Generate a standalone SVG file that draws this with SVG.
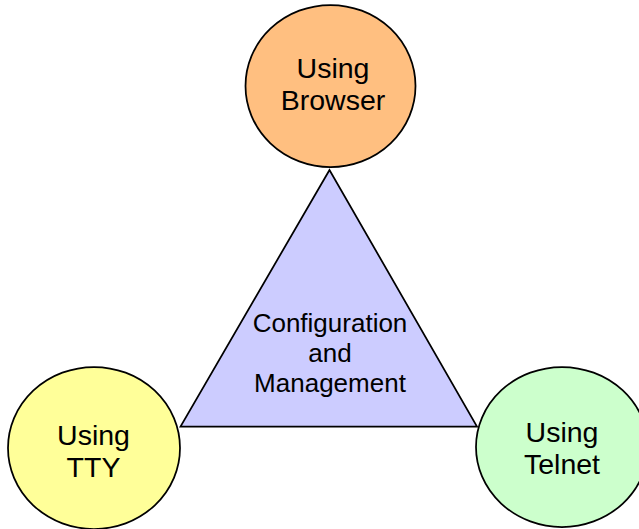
<svg xmlns="http://www.w3.org/2000/svg" width="639" height="529" viewBox="0 0 639 529">
<style>
.shape{stroke:#000;stroke-width:1.75}
.lbl{font-family:"Liberation Sans",Arial,sans-serif;font-size:28.5px;fill:#000;text-anchor:middle}
.tri{font-family:"Liberation Sans",Arial,sans-serif;font-size:26px;fill:#000;text-anchor:middle}
</style>
<rect width="639" height="529" fill="#fff"/>
<g id="connectors"></g>
<g id="browser">
<ellipse class="shape" cx="330.5" cy="86" rx="85" ry="81" fill="#FFBF80"/>
<text class="lbl" x="333" y="78">Using</text>
<text class="lbl" x="333" y="110">Browser</text>
</g>
<g id="config">
<polygon class="shape" points="329.5,170 180.5,426.5 477,426.5" fill="#CCCCFF"/>
<text class="tri" x="330" y="332">Configuration</text>
<text class="tri" x="330" y="362">and</text>
<text class="tri" x="330" y="392">Management</text>
</g>
<g id="tty">
<ellipse class="shape" cx="94" cy="448" rx="86" ry="81" fill="#FFFF99"/>
<text class="lbl" x="93.5" y="445">Using</text>
<text class="lbl" x="93.5" y="477">TTY</text>
</g>
<g id="telnet">
<ellipse class="shape" cx="562" cy="447" rx="86" ry="80" fill="#CCFFCC"/>
<text class="lbl" x="562" y="442">Using</text>
<text class="lbl" x="562" y="474">Telnet</text>
</g>
</svg>
